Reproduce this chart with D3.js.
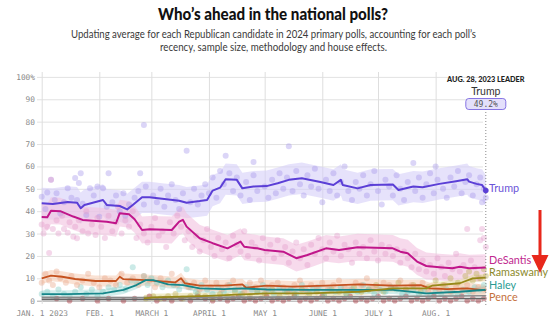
<!DOCTYPE html>
<html>
<head>
<meta charset="utf-8">
<script src="https://cdn.jsdelivr.net/npm/d3@7/dist/d3.min.js"></script>
<style>
  body { margin: 0; background: #fff; }
  svg { display: block; }
</style>
</head>
<body>
<svg id="chart" width="554" height="328"></svg>
<script>
// ---- data -------------------------------------------------------------
const startDate = new Date(2023, 0, 1);
const lastDay = 239; // Aug. 28, 2023 as days after Jan. 1

const tickDays = [0, 31, 59, 90, 120, 151, 181, 212];
const tickLabels = ["JAN. 1 2023", "FEB. 1", "MARCH 1", "APRIL 1", "MAY 1", "JUNE 1", "JULY 1", "AUG. 1"];
const yTicks = [0, 10, 20, 30, 40, 50, 60, 70, 80, 90, 100];

const candidates = ["Trump", "DeSantis", "Ramaswamy", "Haley", "Pence"];
const leaderValue = 49.2;

// polling averages: [days after Jan. 1, percent]
const trumpAvg = [[0,43.5],[6,43.2],[14,44.1],[19,43.8],[21,41.3],[23,42.8],[33,45.0],[35,42.8],[42,42.3],[46,40.8],[49,42.8],[54,46.2],[58,46.2],[66,45.4],[74,44.7],[78,43.8],[85,44.5],[89,45],[92,49.2],[96,50.5],[99,54.3],[105,54],[108,50.2],[114,51],[121,51.2],[127,52.5],[133,54],[140,54.7],[150,53],[157,51.7],[161,54],[162,51.7],[170,50.2],[177,51.7],[189,51.9],[192,49.5],[200,51],[205,50.7],[214,52.2],[223,53.4],[229,54.3],[230,53.2],[234,52.2],[237,51.7],[239,49.2]];
const desantisAvg = [[0,37.4],[3,37.3],[5,40.2],[10,40],[17,37.6],[22,36.1],[35,35.3],[40,34.6],[42,39.1],[47,38.6],[50,36.4],[54,31.6],[58,31.9],[70,31.6],[74,35.3],[76,36.1],[78,33.1],[85,27.9],[92,25.7],[100,23.4],[107,26.4],[109,24.1],[116,23.4],[120,22.7],[130,21.9],[137,19],[143,20.4],[153,23.4],[160,22.7],[170,23.9],[189,23.4],[193,21.9],[197,21.2],[202,17.5],[207,15.5],[214,15.0],[221,14.5],[225,15.2],[230,14.5],[239,14.8]];
const ramaswamyAvg = [[55,1.0],[60,1.5],[75,1.8],[90,2.2],[108,2.8],[121,3.3],[144,3.3],[171,4.0],[189,5.5],[207,5.5],[210,6.7],[225,7.8],[232,10.0],[239,10.3]];
const haleyAvg = [[0,2.9],[14,2.9],[33,3.3],[44,4.8],[51,7.0],[56,9.2],[60,9.2],[68,7.3],[76,7.0],[85,5.5],[98,5.2],[108,5.5],[121,5.0],[144,4.8],[171,4.8],[189,4.8],[207,3.3],[225,4.0],[239,4.9]];
const penceAvg = [[0,10],[5,11.2],[11,10.7],[18,9.7],[29,8.8],[40,8.8],[42,10.7],[44,9.6],[56,9.2],[72,8.2],[75,10],[77,7.8],[85,6.7],[98,6.7],[108,7.3],[110,5.8],[121,6.7],[135,6.3],[153,6.7],[171,7.3],[189,6.7],[204,7.0],[209,5.5],[218,5.2],[229,5.5],[239,4.6]];
const scottAvg = [[0,1.5],[60,1.4],[120,1.6],[180,1.8],[239,2.2]];
const christieAvg = [[0,0.6],[90,0.6],[150,0.8],[239,1.0]];

// uncertainty band half-widths, percentage points
const bandHalfWidth = [7, 6, 1.6, 1.8, 2.5];

// individual polls: [days after Jan. 1, percent]
const trumpPolls = [[0,46.5],[2,41],[3,48.4],[5,54],[7,45],[8,48],[10,39],[12,44],[14,50.2],[16,46],[18,54.8],[19,45],[20,52.6],[21,57],[22,43.3],[24,38.3],[26,50.2],[28,47],[30,51],[31,37.5],[33,50.2],[35,42],[36,57],[38,44],[40,47],[42,40],[44,48],[45,38],[47,43],[50,46],[52,49],[53,57],[55,43],[56,51],[55,78.5],[60,47],[62,44],[64,50],[66,42],[68,47],[70,52],[72,45],[74,41],[76,48],[78,67],[80,44],[82,50],[84,43],[86,47],[88,52],[90,48],[92,55],[94,46],[96,58],[98,52],[99,64.8],[101,57],[103,49],[105,55],[107,47],[110,53],[112,45],[114,56],[116,49],[114,62],[120,51],[122,46],[124,54],[126,48],[128,57],[130,50],[132,55],[133,69],[135,49],[137,58],[139,52],[141,47],[143,56],[145,51],[147,59],[149,50],[151,44],[153,54],[155,49],[157,57],[159,47],[161,53],[163,60],[165,49],[167,45],[169,53],[171,50],[173,56],[175,47],[177,52],[179,58],[181,49],[183,43],[185,54],[187,51],[189,47],[191,56],[193,50],[195,45],[197,53],[200,61.5],[201,49],[203,55],[205,46],[207,52],[209,57],[211,48],[213,54],[212,60],[216,50],[218,46],[220,55],[222,51],[224,58],[226,48],[228,53],[230,56],[232,47],[234,52],[236,55],[237,44],[238,50],[239,46]];
const desantisPolls = [[0,34],[1,30],[3,33],[4,21.3],[5,54],[6,32],[8,36],[9,30],[11,38],[12,32],[14,30.4],[15,35],[17,28.6],[18,33],[19,27.9],[20,36],[22,31],[24,40],[25,30],[27,34],[29,29.4],[30,37],[32,33],[34,28],[36,38],[38,31],[40,35],[41,42],[43,30],[45,36],[47,33],[49,40],[51,28],[53,34],[55,30],[57,26],[59,33],[61,37],[63,29],[65,31],[67,24],[69,35],[71,30],[73,38],[75,33],[77,27],[79,31],[81,24],[83,29],[85,22],[87,27],[89,32],[91,24],[93,20],[95,28],[97,23],[99,26],[101,19],[103,29],[105,25],[107,22],[109,31],[111,20],[113,26],[115,24],[117,18],[119,28],[121,22],[123,25],[125,19],[127,27],[129,21],[131,24],[133,17],[135,22],[137,26],[139,19],[141,23],[143,16],[145,25],[147,21],[149,28],[151,23],[153,19],[155,26],[157,22],[159,29],[161,20],[163,25],[165,23],[167,17],[169,26],[171,21],[173,24],[175,19],[177,27],[179,22],[181,18],[183,25],[185,21],[187,24],[189,20],[191,23],[193,17],[195,22],[197,19],[199,15],[201,21],[203,14],[205,18],[207,13],[209,16],[211,12],[213,19],[215,15],[217,11],[219,17],[221,14],[223,21],[225,13],[227,16],[229,32],[231,18],[233,15],[235,10],[236,27],[237,32],[238,28],[239,24]];
const ramaswamyPolls = [[56,1],[60,2],[64,1],[68,2],[72,3],[76,1],[80,2],[84,3],[88,2],[92,1],[96,3],[100,2],[104,4],[108,3],[112,2],[116,4],[120,3],[124,5],[128,2],[132,4],[136,3],[140,5],[144,3],[148,4],[152,2],[156,5],[160,4],[164,3],[168,6],[172,4],[176,5],[180,7],[184,4],[188,6],[192,8],[196,5],[200,7],[204,4],[208,6],[212,9],[216,7],[220,10],[224,8],[228,11],[230,13],[232,9],[234,12],[236,10],[238,14],[239,11]];
const haleyPolls = [[0,3],[3,4],[6,2],[9,5],[12,3],[15,2],[18,4],[21,6],[24,3],[27,5],[30,2],[33,4],[36,6],[39,5],[42,7],[45,5],[48,9],[49,15],[51,8],[55,11],[57,7],[59,10],[62,8],[65,6],[68,9],[71,7],[74,5],[77,8],[78,14],[80,6],[83,4],[86,7],[89,5],[92,3],[95,6],[98,4],[101,7],[104,5],[107,3],[110,6],[113,5],[116,4],[119,7],[122,5],[125,3],[128,6],[131,4],[134,5],[137,3],[140,7],[143,4],[146,5],[149,6],[152,3],[155,5],[158,4],[161,6],[164,3],[167,5],[170,4],[173,7],[176,5],[179,3],[182,5],[185,4],[188,6],[191,5],[194,3],[197,4],[200,5],[203,3],[206,4],[209,2],[212,4],[215,3],[218,5],[221,4],[224,3],[227,5],[230,4],[233,6],[236,5],[238,7]];
const pencePolls = [[0,8],[2,12],[4,9],[6,7],[8,13],[10,10],[13,8],[16,11],[19,7],[22,9],[25,12],[28,8],[31,6],[34,10],[37,9],[40,7],[43,12],[46,8],[49,10],[52,7],[55,11],[58,9],[61,6],[64,10],[67,8],[70,12],[73,7],[76,9],[79,6],[82,8],[85,5],[88,9],[91,6],[94,8],[97,5],[100,7],[103,9],[106,6],[109,4],[112,8],[115,6],[118,9],[121,5],[124,7],[127,8],[130,6],[133,4],[136,7],[139,9],[142,5],[145,7],[148,6],[151,8],[154,5],[157,7],[160,9],[163,6],[166,5],[169,8],[172,7],[175,10],[178,6],[181,5],[184,8],[187,7],[190,6],[193,9],[196,5],[199,7],[202,6],[205,8],[208,4],[211,6],[214,5],[217,7],[220,4],[223,6],[226,5],[229,7],[232,4],[235,6],[238,5]];
const otherPolls = [[8,1],[15,0],[22,1],[30,0],[36,1],[44,0],[50,1],[58,2],[62,0],[66,1],[70,0],[75,1],[80,0],[84,2],[88,1],[92,0],[96,1],[100,0],[103,1],[106,2],[109,0],[112,1],[115,0],[118,1],[121,2],[124,0],[127,1],[130,0],[133,1],[136,2],[139,0],[142,1],[145,0],[148,1],[151,2],[154,0],[157,1],[160,0],[163,1],[166,2],[169,0],[172,1],[175,0],[178,1],[181,2],[184,0],[187,1],[190,0],[193,1],[196,2],[199,0],[202,1],[205,0],[208,1],[211,2],[214,0],[217,1],[220,0],[223,1],[226,2],[229,0],[232,1],[235,0],[238,1]];

// ---- styling --------------------------------------------------------
const lineColor = { Trump: "#5b3fd6", DeSantis: "#c0168a", Ramaswamy: "#98891a", Haley: "#16878a", Pence: "#c5521f" };
const labelColor = { Trump: "#6a54d8", DeSantis: "#c0288f", Ramaswamy: "#8c8a2c", Haley: "#2a9a92", Pence: "#c4703c" };
const bandColor = { Trump: "#d6cff8", DeSantis: "#f1c2e0", Ramaswamy: "#e6dfa8", Haley: "#b8e2e0", Pence: "#f6cfb8" };
const dotColor = { Trump: "#a495ea", DeSantis: "#e39ccb", Ramaswamy: "#b8ab4a", Haley: "#7ccac4", Pence: "#e8a486" };

const averages = [trumpAvg, desantisAvg, ramaswamyAvg, haleyAvg, penceAvg];
const polls = [trumpPolls, desantisPolls, ramaswamyPolls, haleyPolls, pencePolls];

// ---- chart ----------------------------------------------------------
const svg = d3.select("#chart");
const dayToDate = d => d3.timeDay.offset(startDate, d);
const sans = "Lato, Roboto, 'Liberation Sans', sans-serif";
const mono = "'DejaVu Sans Mono', 'Liberation Mono', monospace";

const x = d3.scaleTime()
  .domain([startDate, dayToDate(lastDay)])
  .range([41.7, 485.8]);
const y = d3.scaleLinear().domain([0, 100]).range([300.7, 76.9]);

// title block (condensed headline type)
svg.append("text")
  .attr("x", 158).attr("y", 20)
  .attr("textLength", 230)
  .attr("lengthAdjust", "spacingAndGlyphs")
  .attr("font-family", sans)
  .attr("font-weight", 900)
  .attr("font-size", 16.5)
  .attr("fill", "#111")
  .text("Who’s ahead in the national polls?");
const sub = svg.append("g")
  .attr("font-family", sans)
  .attr("font-size", 11)
  .attr("fill", "#3a3a3a");
sub.append("text").attr("x", 71).attr("y", 37.5)
  .attr("textLength", 405).attr("lengthAdjust", "spacingAndGlyphs")
  .text("Updating average for each Republican candidate in 2024 primary polls, accounting for each poll’s");
sub.append("text").attr("x", 160).attr("y", 50.5)
  .attr("textLength", 227).attr("lengthAdjust", "spacingAndGlyphs")
  .text("recency, sample size, methodology and house effects.");

// horizontal gridlines with y axis
const yAxis = d3.axisLeft(y)
  .tickValues(yTicks)
  .tickSize(-(483 - 37))
  .tickPadding(2)
  .tickFormat(d => d === 100 ? "100%" : d);
const gy = svg.append("g").attr("transform", "translate(37,0)").call(yAxis);
gy.select(".domain").remove();
gy.selectAll(".tick line").attr("stroke", "#e2e2e2").attr("stroke-width", 1);
gy.selectAll(".tick").filter(d => d === 0).select("line").attr("stroke", "#a8a8a8");
gy.selectAll(".tick text")
  .attr("font-family", mono).attr("font-size", 7.8).attr("fill", "#8a8a8a");

// vertical month gridlines with x axis
const xAxis = d3.axisBottom(x)
  .tickValues(tickDays.map(dayToDate))
  .tickSize(-(304 - 72))
  .tickPadding(6)
  .tickFormat((d, i) => tickLabels[i]);
const gx = svg.append("g").attr("transform", "translate(0,304)").call(xAxis);
gx.select(".domain").remove();
gx.selectAll(".tick line").attr("stroke", "#dedede");
gx.selectAll(".tick text")
  .attr("font-family", mono).attr("font-size", 7.8).attr("fill", "#8a8a8a");

// uncertainty bands
const plot = svg.append("g");
candidates.forEach((name, i) => {
  const hw = bandHalfWidth[i];
  const area = d3.area()
    .x(d => x(dayToDate(d[0])))
    .y0(d => y(Math.max(0, d[1] - hw)))
    .y1(d => y(d[1] + hw));
  plot.append("path")
    .datum(averages[i])
    .attr("d", area)
    .attr("fill", bandColor[name])
    .attr("opacity", 0.6);
});

// individual polls
const dots = svg.append("g");
dots.selectAll("circle.other")
  .data(otherPolls).join("circle")
  .attr("class", "other")
  .attr("cx", d => x(dayToDate(d[0])))
  .attr("cy", d => y(d[1]))
  .attr("r", 2.8)
  .attr("fill", "#a3303a")
  .attr("opacity", 0.45);
candidates.forEach((name, i) => {
  dots.append("g").selectAll("circle")
    .data(polls[i]).join("circle")
    .attr("cx", d => x(dayToDate(d[0])))
    .attr("cy", d => y(d[1]))
    .attr("r", 3)
    .attr("fill", dotColor[name])
    .attr("opacity", 0.4);
});

// averages
const line = d3.line()
  .x(d => x(dayToDate(d[0])))
  .y(d => y(d[1]));
[christieAvg, scottAvg].forEach((s, i) => {
  svg.append("path").datum(s).attr("d", line)
    .attr("fill", "none").attr("stroke", i ? "#8a8a8a" : "#666")
    .attr("stroke-width", 1.6);
});
[4, 3, 2, 1, 0].forEach(i => {
  svg.append("path").datum(averages[i]).attr("d", line)
    .attr("fill", "none")
    .attr("stroke", lineColor[candidates[i]])
    .attr("stroke-width", i < 2 ? 2 : 1.8)
    .attr("stroke-linejoin", "round");
});

// end-of-line labels, spread apart where they collide
const finals = candidates.map((name, i) => {
  const a = averages[i];
  return { name, value: a[a.length - 1][1], target: y(a[a.length - 1][1]) };
}).sort((a, b) => a.target - b.target);
const gap = 12.5;
let groups = finals.map(f => ({ items: [f], mean: f.target }));
let merged = true;
while (merged) {
  merged = false;
  for (let k = 0; k < groups.length - 1; k++) {
    const g1 = groups[k], g2 = groups[k + 1];
    const bottom1 = g1.mean + (g1.items.length - 1) * gap / 2;
    const top2 = g2.mean - (g2.items.length - 1) * gap / 2;
    if (top2 - bottom1 < gap) {
      const items = g1.items.concat(g2.items);
      groups.splice(k, 2, { items, mean: d3.mean(items, d => d.target) });
      merged = true;
      break;
    }
  }
}
groups.forEach(g => g.items.forEach((f, j) => {
  f.pos = g.mean + (j - (g.items.length - 1) / 2) * gap - 1.5;
}));
svg.append("g").selectAll("text")
  .data(finals).join("text")
  .attr("x", 489)
  .attr("y", d => d.pos)
  .attr("dominant-baseline", "middle")
  .attr("font-family", sans)
  .attr("font-size", 10.8)
  .attr("fill", d => labelColor[d.name])
  .text(d => d.name);

// final-day marker and leader callout
const xEnd = x(dayToDate(lastDay));
svg.append("line")
  .attr("x1", xEnd).attr("x2", xEnd)
  .attr("y1", 109).attr("y2", 306)
  .attr("stroke", "#8a8a8a").attr("stroke-width", 1)
  .attr("stroke-dasharray", "1,2");
svg.append("circle")
  .attr("cx", xEnd).attr("cy", y(leaderValue)).attr("r", 2.8)
  .attr("fill", lineColor.Trump);
svg.append("text")
  .attr("x", xEnd).attr("y", 82)
  .attr("text-anchor", "middle")
  .attr("font-family", sans)
  .attr("font-weight", 900)
  .attr("font-size", 7.3)
  .attr("fill", "#222")
  .text("AUG. 28, 2023 LEADER");
svg.append("text")
  .attr("x", xEnd).attr("y", 94.5)
  .attr("text-anchor", "middle")
  .attr("font-family", sans)
  .attr("font-size", 10.5)
  .attr("fill", "#333")
  .text("Trump");
svg.append("rect")
  .attr("x", xEnd - 20).attr("y", 98.5)
  .attr("width", 40).attr("height", 11)
  .attr("rx", 3)
  .attr("fill", "#e4e0fb")
  .attr("stroke", "#7a66e0").attr("stroke-width", 0.9);
svg.append("text")
  .attr("x", xEnd).attr("y", 104.3)
  .attr("text-anchor", "middle")
  .attr("dominant-baseline", "middle")
  .attr("font-family", mono)
  .attr("font-size", 8)
  .attr("fill", "#555")
  .text(leaderValue.toFixed(1) + "%");

// red pointer arrow beside the labels
svg.append("path")
  .attr("d", "M538.5,210 L541.5,210 L541.5,255 L548.5,255 L540,273 L531.5,255 L538.5,255 Z")
  .attr("fill", "#e8281c");
</script>
</body>
</html>
